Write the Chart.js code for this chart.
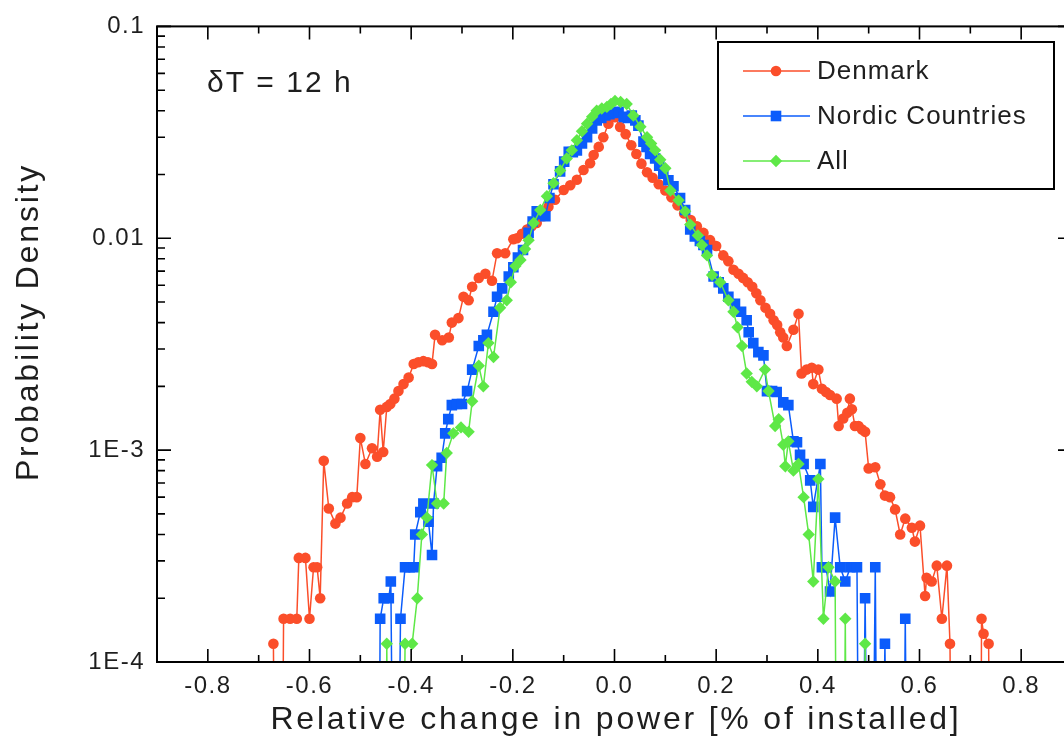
<!DOCTYPE html>
<html>
<head>
<meta charset="utf-8">
<title>Probability Density</title>
<script src="https://cdn.jsdelivr.net/npm/chart.js@4.4.1/dist/chart.umd.min.js"></script>
<style>
  html, body { margin: 0; padding: 0; overflow: hidden; background: #fff; }
  /* el área del gráfico sigue un poco más allá del borde derecho, como en el original */
  #contenedor { position: relative; width: 1080px; height: 740px; }
</style>
</head>
<body>
<div id="contenedor"><canvas id="densidadChart"></canvas></div>
<script>
// Textos del gráfico
const xTitle = 'Relative change in power [% of installed]';
const yTitle = 'Probability Density';
const annotation = '\u03B4T = 12 h';

// Marcas de los ejes
const xTicks = [-0.8, -0.6, -0.4, -0.2, 0.0, 0.2, 0.4, 0.6, 0.8];
const xTickLabels = ['-0.8', '-0.6', '-0.4', '-0.2', '0.0', '0.2', '0.4', '0.6', '0.8'];
const yTicks = [1e-4, 1e-3, 1e-2, 1e-1];
const yTickLabels = ['1E-4', '1E-3', '0.01', '0.1'];
const yMin = 1e-4;
const yMax = 0.1;

// Denmark (0 = clase vacía, la línea cae fuera del eje)
const denmarkX = [
  -0.671, -0.665, -0.657, -0.651, -0.638, -0.625, -0.621, -0.608, -0.600, -0.592,
  -0.585, -0.579, -0.572, -0.562, -0.549, -0.539, -0.526, -0.516, -0.507, -0.500,
  -0.490, -0.477, -0.467, -0.461, -0.455, -0.448, -0.441, -0.433, -0.425, -0.415,
  -0.405, -0.395, -0.386, -0.376, -0.367, -0.359, -0.353, -0.339, -0.326, -0.320,
  -0.307, -0.297, -0.287, -0.280, -0.267, -0.254, -0.241, -0.231, -0.215, -0.199,
  -0.192, -0.182, -0.172, -0.163, -0.153, -0.140, -0.130, -0.117, -0.100, -0.087,
  -0.074, -0.061, -0.048, -0.041, -0.031, -0.022, -0.012, 0.001, 0.011, 0.022,
  0.033, 0.043, 0.053, 0.064, 0.075, 0.087, 0.100, 0.112, 0.124, 0.137,
  0.150, 0.162, 0.175, 0.188, 0.200, 0.214, 0.224, 0.234, 0.244, 0.253,
  0.262, 0.271, 0.279, 0.287, 0.297, 0.306, 0.313, 0.320, 0.326, 0.332,
  0.339, 0.352, 0.362, 0.368, 0.378, 0.388, 0.391, 0.401, 0.408, 0.416,
  0.424, 0.437, 0.441, 0.450, 0.458, 0.463, 0.467, 0.473, 0.480, 0.487,
  0.493, 0.500, 0.513, 0.523, 0.532, 0.542, 0.552, 0.562, 0.572, 0.585,
  0.591, 0.601, 0.611, 0.614, 0.624, 0.634, 0.644, 0.654, 0.660, 0.666,
  0.719, 0.722, 0.726, 0.736, 0.742
];
const denmarkY = [
  1.22e-4, 0, 0, 1.6e-4, 1.6e-4, 1.6e-4, 3.1e-4, 3.1e-4, 1.6e-4, 2.8e-4,
  2.8e-4, 2.0e-4, 8.9e-4, 5.3e-4, 4.5e-4, 4.8e-4, 5.6e-4, 6.0e-4, 6.0e-4, 1.14e-3,
  8.6e-4, 1.02e-3, 9.3e-4, 1.55e-3, 9.8e-4, 1.6e-3, 1.65e-3, 1.75e-3, 1.9e-3, 2.05e-3,
  2.2e-3, 2.55e-3, 2.6e-3, 2.63e-3, 2.6e-3, 2.55e-3, 3.5e-3, 3.3e-3, 3.4e-3, 4.0e-3,
  4.2e-3, 5.3e-3, 5.1e-3, 5.9e-3, 6.5e-3, 6.8e-3, 6.3e-3, 8.5e-3, 8.5e-3, 9.9e-3,
  1.0e-2, 1.05e-2, 1.1e-2, 1.14e-2, 1.18e-2, 1.27e-2, 1.41e-2, 1.52e-2, 1.69e-2, 1.78e-2,
  1.89e-2, 2.1e-2, 2.26e-2, 2.47e-2, 2.7e-2, 3.0e-2, 3.47e-2, 3.73e-2, 3.35e-2, 3.1e-2,
  2.75e-2, 2.5e-2, 2.25e-2, 2.05e-2, 1.93e-2, 1.8e-2, 1.68e-2, 1.56e-2, 1.43e-2, 1.31e-2,
  1.22e-2, 1.14e-2, 1.06e-2, 9.8e-3, 9.2e-3, 8.3e-3, 7.8e-3, 7.1e-3, 6.8e-3, 6.5e-3,
  6.2e-3, 5.9e-3, 5.5e-3, 5.1e-3, 4.7e-3, 4.4e-3, 4.1e-3, 3.9e-3, 3.6e-3, 3.4e-3,
  3.1e-3, 3.7e-3, 4.4e-3, 2.3e-3, 2.4e-3, 2.45e-3, 2.05e-3, 2.4e-3, 1.95e-3, 1.88e-3,
  1.82e-3, 1.75e-3, 1.3e-3, 1.41e-3, 1.5e-3, 1.75e-3, 1.56e-3, 1.3e-3, 1.3e-3, 1.25e-3,
  1.22e-3, 8.2e-4, 8.3e-4, 6.9e-4, 6.1e-4, 6.0e-4, 5.25e-4, 4.0e-4, 4.75e-4, 4.3e-4,
  3.7e-4, 4.4e-4, 2.05e-4, 2.5e-4, 2.4e-4, 2.85e-4, 1.6e-4, 2.85e-4, 1.22e-4, 0,
  0, 1.6e-4, 1.36e-4, 1.22e-4, 0
];

// Nordic Countries
const nordicX = [
  -0.466, -0.461, -0.454, -0.444, -0.440, -0.431, -0.421, -0.412, -0.403, -0.395,
  -0.392, -0.382, -0.376, -0.366, -0.359, -0.356, -0.349, -0.340, -0.333, -0.327,
  -0.320, -0.310, -0.300, -0.290, -0.280, -0.267, -0.258, -0.251, -0.238, -0.231,
  -0.221, -0.208, -0.199, -0.190, -0.180, -0.169, -0.161, -0.153, -0.145, -0.136,
  -0.128, -0.120, -0.107, -0.099, -0.090, -0.082, -0.074, -0.064, -0.054, -0.044,
  -0.035, -0.026, -0.018, -0.010, -0.002, 0.008, 0.018, 0.026, 0.034, 0.041,
  0.047, 0.057, 0.063, 0.070, 0.080, 0.088, 0.096, 0.106, 0.116, 0.129,
  0.139, 0.149, 0.158, 0.168, 0.175, 0.182, 0.195, 0.205, 0.214, 0.224,
  0.237, 0.249, 0.260, 0.264, 0.273, 0.283, 0.293, 0.300, 0.310, 0.319,
  0.332, 0.342, 0.352, 0.359, 0.365, 0.372, 0.385, 0.391, 0.405, 0.408,
  0.416, 0.424, 0.434, 0.444, 0.454, 0.464, 0.477, 0.484, 0.493, 0.503,
  0.513, 0.520, 0.532, 0.540, 0.565, 0.572, 0.580
];
const nordicY = [
  0, 1.6e-4, 2.0e-4, 2.0e-4, 2.4e-4, 0, 1.6e-4, 2.8e-4, 2.8e-4, 2.8e-4,
  4.0e-4, 5.1e-4, 5.6e-4, 4.6e-4, 3.2e-4, 5.6e-4, 8.4e-4, 9.2e-4, 1.2e-3, 1.4e-3,
  1.63e-3, 1.65e-3, 1.65e-3, 1.9e-3, 2.4e-3, 3.1e-3, 3.3e-3, 3.5e-3, 4.5e-3, 5.3e-3,
  5.8e-3, 6.6e-3, 7.3e-3, 8.1e-3, 8.8e-3, 1.06e-2, 1.2e-2, 1.34e-2, 1.3e-2, 1.27e-2,
  1.55e-2, 1.8e-2, 2.07e-2, 2.3e-2, 2.56e-2, 2.55e-2, 2.6e-2, 2.8e-2, 3.0e-2, 3.3e-2,
  3.6e-2, 3.7e-2, 3.8e-2, 3.85e-2, 3.9e-2, 3.95e-2, 3.74e-2, 3.7e-2, 3.8e-2, 3.6e-2,
  3.4e-2, 2.86e-2, 2.7e-2, 2.5e-2, 2.38e-2, 2.2e-2, 2.02e-2, 1.88e-2, 1.76e-2, 1.55e-2,
  1.36e-2, 1.1e-2, 1.02e-2, 9.7e-3, 9.3e-3, 8.8e-3, 6.6e-3, 6.2e-3, 5.8e-3, 5.3e-3,
  4.9e-3, 4.5e-3, 4.1e-3, 3.6e-3, 3.2e-3, 2.9e-3, 2.8e-3, 1.9e-3, 1.9e-3, 1.88e-3,
  1.68e-3, 1.63e-3, 1.1e-3, 1.09e-3, 9.5e-4, 8.6e-4, 7.2e-4, 5.4e-4, 8.6e-4, 2.8e-4,
  2.8e-4, 2.15e-4, 4.8e-4, 2.8e-4, 2.4e-4, 2.8e-4, 2.8e-4, 0, 2.0e-4, 0,
  2.8e-4, 0, 1.22e-4, 0, 0, 1.6e-4, 0
];

// All
const allX = [
  -0.451, -0.448, -0.440, -0.420, -0.412, -0.398, -0.388, -0.379, -0.369, -0.359,
  -0.349, -0.336, -0.330, -0.317, -0.302, -0.287, -0.280, -0.267, -0.258, -0.248,
  -0.238, -0.225, -0.212, -0.204, -0.195, -0.185, -0.176, -0.169, -0.159, -0.146,
  -0.133, -0.120, -0.107, -0.094, -0.084, -0.074, -0.064, -0.054, -0.044, -0.035,
  -0.025, -0.015, -0.007, 0.001, 0.012, 0.024, 0.037, 0.051, 0.064, 0.072,
  0.080, 0.090, 0.100, 0.110, 0.126, 0.139, 0.149, 0.164, 0.172, 0.182,
  0.192, 0.208, 0.224, 0.234, 0.242, 0.251, 0.260, 0.270, 0.280, 0.296,
  0.303, 0.316, 0.323, 0.332, 0.336, 0.342, 0.352, 0.362, 0.372, 0.382,
  0.391, 0.401, 0.411, 0.421, 0.434, 0.440, 0.448, 0.454, 0.460, 0.487,
  0.493, 0.500
];
const allY = [
  0, 1.22e-4, 0, 0, 1.22e-4, 1.22e-4, 2.0e-4, 4.0e-4, 4.8e-4, 8.5e-4,
  5.6e-4, 5.6e-4, 9.7e-4, 1.2e-3, 1.28e-3, 1.22e-3, 1.7e-3, 2.5e-3, 2.0e-3, 3.2e-3,
  2.75e-3, 4.7e-3, 5.1e-3, 6.2e-3, 7.4e-3, 7.9e-3, 8.9e-3, 9.8e-3, 1.18e-2, 1.36e-2,
  1.58e-2, 1.82e-2, 2.09e-2, 2.38e-2, 2.6e-2, 2.9e-2, 3.2e-2, 3.47e-2, 3.75e-2, 4.0e-2,
  4.1e-2, 4.17e-2, 4.3e-2, 4.45e-2, 4.4e-2, 4.3e-2, 3.8e-2, 3.36e-2, 3.0e-2, 2.8e-2,
  2.6e-2, 2.35e-2, 2.14e-2, 1.68e-2, 1.51e-2, 1.34e-2, 1.16e-2, 1.03e-2, 9.3e-3, 8.3e-3,
  6.7e-3, 6.2e-3, 5.1e-3, 4.5e-3, 3.8e-3, 3.1e-3, 2.3e-3, 2.1e-3, 2.0e-3, 2.4e-3,
  1.9e-3, 1.3e-3, 1.4e-3, 1.06e-3, 8.4e-4, 1.1e-3, 8.0e-4, 8.6e-4, 6.0e-4, 4.0e-4,
  2.4e-4, 7.3e-4, 1.6e-4, 2.8e-4, 2.4e-4, 0, 0, 1.6e-4, 0, 0,
  1.22e-4, 0
];

const fuente = "'Liberation Sans', Arial, Helvetica, sans-serif";
const colorTexto = '#1e1e1e';

// Las clases vacías no existen en escala log: se dibujan por debajo del eje (se recortan)
function armarPuntos(xs, ys) {
    return xs.map((x, i) => ({ x: x, y: ys[i] > 0 ? ys[i] : yMin / 100 }));
}

function armarSerie(label, xs, ys, color, estilo, radio, orden) {
    return {
        label: label,
        data: armarPuntos(xs, ys),
        borderColor: color,
        backgroundColor: color,
        pointBackgroundColor: color,
        pointBorderWidth: 0,
        pointStyle: estilo,
        pointRadius: ctx => (ctx.raw && ctx.raw.y >= yMin ? radio : 0),
        legendRadius: radio,
        borderWidth: 1.5,
        tension: 0,
        order: orden
    };
}

// Marco, marcas hacia adentro en los cuatro lados, títulos, leyenda y anotación
const decoracion = {
    id: 'decoracion',
    beforeDraw(chart) {
        chart.ctx.letterSpacing = '1.5px';
    },
    afterDraw(chart) {
        const { ctx, chartArea: a, scales } = chart;
        const sx = scales.x;
        const sy = scales.y;
        ctx.save();
        ctx.strokeStyle = '#000';
        ctx.lineWidth = 2;
        ctx.strokeRect(a.left, a.top, a.right - a.left, a.bottom - a.top);

        ctx.lineWidth = 1.6;
        ctx.beginPath();
        // eje x: mayores cada 0.2, menores cada 0.1
        for (let k = -9; k <= 9; k++) {
            const px = sx.getPixelForValue(k / 10);
            const largo = (k % 2 === 0) ? 13 : 7;
            ctx.moveTo(px, a.bottom); ctx.lineTo(px, a.bottom - largo);
            ctx.moveTo(px, a.top); ctx.lineTo(px, a.top + largo);
        }
        // eje y logarítmico: mayores en cada década, menores 2..9
        for (let e = -4; e <= -1; e++) {
            for (let m = 1; m <= 9; m++) {
                const v = m * Math.pow(10, e);
                if (v > yMax * 1.0001) break;
                const py = sy.getPixelForValue(v);
                const largo = m === 1 ? 14 : 8;
                ctx.moveTo(a.left, py); ctx.lineTo(a.left + largo, py);
                ctx.moveTo(a.right, py); ctx.lineTo(a.right - largo, py);
            }
        }
        ctx.stroke();

        // títulos de los ejes
        ctx.fillStyle = colorTexto;
        ctx.font = '32px ' + fuente;
        ctx.letterSpacing = '2.8px';
        ctx.textAlign = 'center';
        ctx.textBaseline = 'alphabetic';
        ctx.fillText(xTitle, 616, 729);
        ctx.save();
        ctx.translate(38, 322);
        ctx.rotate(-Math.PI / 2);
        ctx.fillText(yTitle, 0, 0);
        ctx.restore();

        // anotación
        ctx.font = '30px ' + fuente;
        ctx.letterSpacing = '2px';
        ctx.textAlign = 'left';
        ctx.fillText(annotation, 207, 92);

        // leyenda
        ctx.lineWidth = 2;
        ctx.strokeStyle = '#000';
        ctx.strokeRect(718, 42, 336, 147);
        const filas = [71, 116, 161];
        ctx.font = '26px ' + fuente;
        ctx.letterSpacing = '1px';
        ctx.textBaseline = 'middle';
        chart.data.datasets.forEach((ds, i) => {
            const yy = filas[i];
            ctx.strokeStyle = ds.borderColor;
            ctx.lineWidth = 1.5;
            ctx.beginPath();
            ctx.moveTo(743, yy); ctx.lineTo(810, yy);
            ctx.stroke();
            ctx.fillStyle = ds.borderColor;
            Chart.helpers.drawPoint(ctx, {
                pointStyle: ds.pointStyle,
                radius: ds.legendRadius,
                rotation: 0,
                borderWidth: 0
            }, 776, yy);
            ctx.fillStyle = colorTexto;
            ctx.fillText(ds.label, 817, yy + 1);
        });
        ctx.restore();
    }
};

const datasets = [
    armarSerie('Denmark', denmarkX, denmarkY, '#fb4e2a', 'circle', 5.3, 2),
    armarSerie('Nordic Countries', nordicX, nordicY, '#0b5cfb', 'rect', 7.5, 1),
    armarSerie('All', allX, allY, '#5ee847', 'rectRot', 6.2, 0)
];

Chart.defaults.font.family = fuente;
Chart.defaults.color = colorTexto;

const ctx = document.getElementById('densidadChart').getContext('2d');
const densidadChart = new Chart(ctx, {
    type: 'line',
    data: { datasets: datasets },
    options: {
        responsive: true,
        maintainAspectRatio: false,
        animation: false,
        layout: { padding: { left: 0, top: 22, right: 8, bottom: 0 } },
        plugins: {
            legend: { display: false },
            tooltip: { enabled: false }
        },
        scales: {
            x: {
                type: 'linear',
                min: -0.9,
                max: 0.9,
                grid: { display: false, drawTicks: false },
                border: { display: false },
                afterBuildTicks: scale => { scale.ticks = xTicks.map(v => ({ value: v })); },
                afterFit: scale => { scale.height = 78; },
                ticks: {
                    autoSkip: false,
                    maxRotation: 0,
                    padding: 10,
                    font: { size: 24 },
                    callback: (v, i) => xTickLabels[i]
                }
            },
            y: {
                type: 'logarithmic',
                min: yMin,
                max: yMax,
                grid: { display: false, drawTicks: false },
                border: { display: false },
                afterBuildTicks: scale => { scale.ticks = yTicks.map(v => ({ value: v })); },
                afterFit: scale => { scale.width = 157; },
                ticks: {
                    autoSkip: false,
                    padding: 12,
                    font: { size: 24 },
                    callback: (v, i) => yTickLabels[i]
                }
            }
        }
    },
    plugins: [decoracion]
});
</script>
</body>
</html>
